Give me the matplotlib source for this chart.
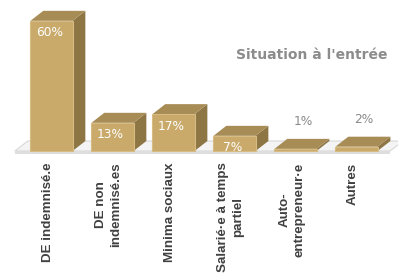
import matplotlib.pyplot as plt
from matplotlib.patches import Polygon

categories = ["DE indemnisé.e", "DE non\nindemnisé.es", "Minima sociaux",
              "Salarié·e à temps\npartiel", "Auto-\nentrepreneur·e", "Autres"]
values = [60, 13, 17, 7, 1, 2]
title = "Situation à l'entrée"

front = "#c9aa6b"
side = "#8d7544"
top = "#a88c56"

w = 0.69      # bar width (category units)
dx = 0.21     # depth offset x
dy = 4.6      # depth offset y (percent units)

fig = plt.figure(figsize=(3.98, 2.77), dpi=100)
ax = fig.add_axes([0, 0, 1, 1])
ax.set_xlim(-0.844, 5.68)
ax.set_ylim(-58.06, 69.59)
ax.axis("off")

# floor slab
x0, x1 = -0.6, len(values) - 0.45
ax.add_patch(Polygon([(x0, 0), (x1, 0), (x1 + dx, dy), (x0 + dx, dy)],
                     closed=True, fc="#f4f4f4", ec="#d8d8d8", lw=0.8, zorder=1))
ax.add_patch(Polygon([(x0, 0), (x1, 0), (x1, -1.4), (x0, -1.4)],
                     closed=True, fc="#dedede", ec="none", zorder=1))

for i, v in enumerate(values):
    l, r = i - w / 2, i + w / 2
    ax.bar(i, v, w, color=front, edgecolor="#d6bb82", linewidth=0.8, zorder=3)
    ax.add_patch(Polygon([(r, 0), (r + dx, dy), (r + dx, v + dy), (r, v)],
                         closed=True, fc=side, ec="none", zorder=2))
    ax.add_patch(Polygon([(l, v), (r, v), (r + dx, v + dy), (l + dx, v + dy)],
                         closed=True, fc=top, ec="none", zorder=2))
    if v >= 5:
        ax.text(i - 0.03, v - 5.5, f"{v}%", color="white", fontsize=8.8,
                family="DejaVu Sans", ha="center", va="center", zorder=4)
    else:
        ax.text(i + 0.12, v + dy + 8, f"{v}%", color="#8a8a8a", fontsize=8.8,
                family="DejaVu Sans", ha="center", va="center", zorder=4)
    ax.text(i - 0.06, -5.3, categories[i], rotation=90, ha="center", va="top",
            multialignment="center", linespacing=1.3, fontsize=9.6,
            family="Liberation Sans", fontweight="bold", color="#404040")

ax.text(312 / 398, 1 - 55 / 277, title, transform=ax.transAxes, ha="center",
        va="center", fontsize=10, family="DejaVu Sans", fontweight="bold",
        color="#8c8c8c")

fig.savefig("out.png", dpi=100)
